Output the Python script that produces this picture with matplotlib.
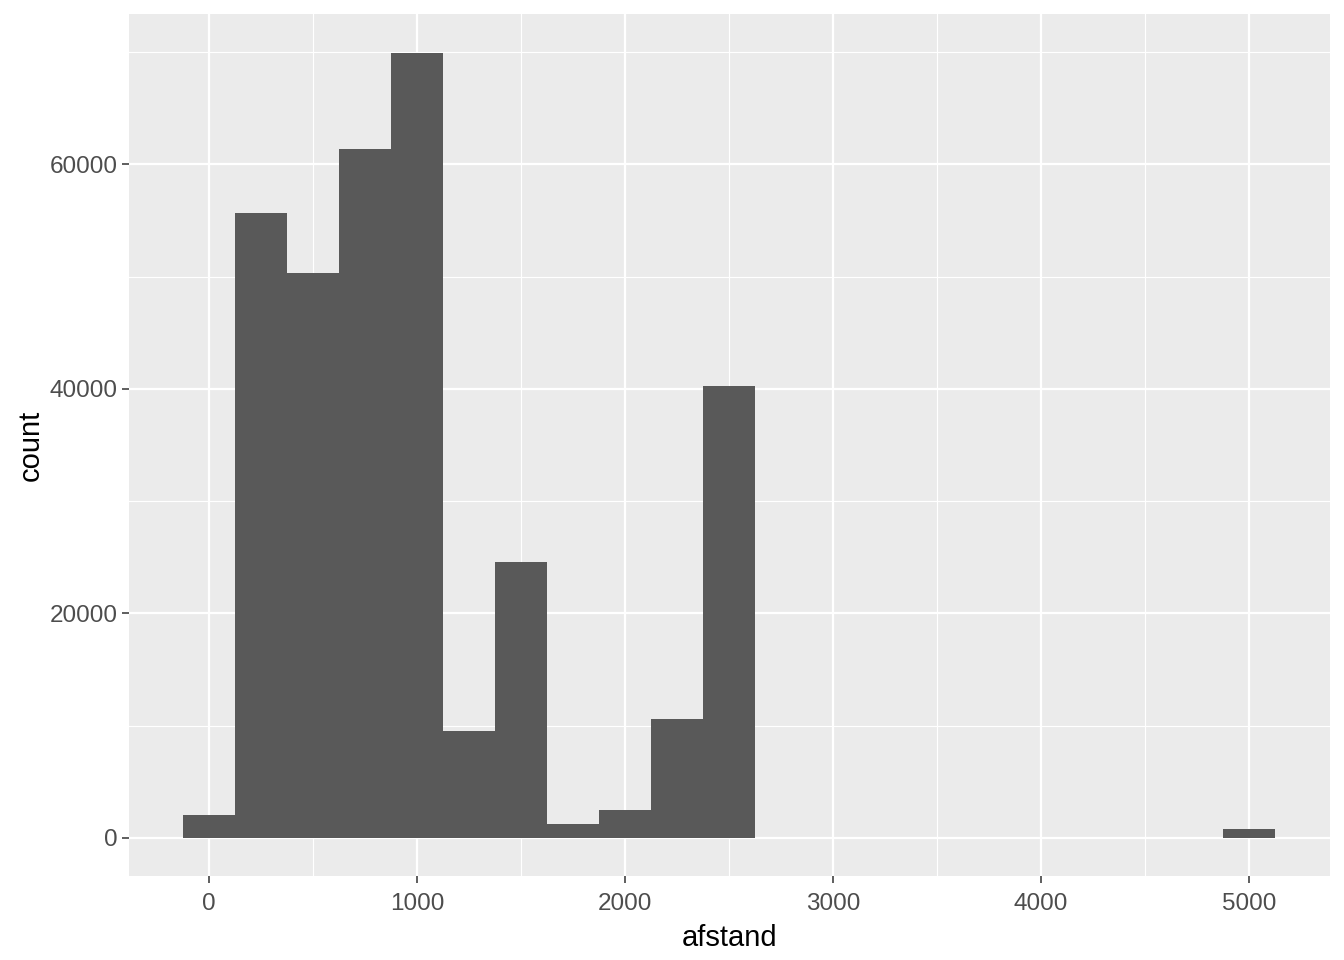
import numpy as np
import matplotlib.pyplot as plt

plt.rcParams['font.family'] = ['Liberation Sans', 'DejaVu Sans']

# histogram bins (width 250, centred on multiples of 250)
bin_centers = [0, 250, 500, 750, 1000, 1250, 1500, 1750, 2000, 2250, 2500,
               2750, 3000, 3250, 3500, 3750, 4000, 4250, 4500, 4750, 5000]
counts = [2050, 55700, 50300, 61400, 69950, 9550, 24600, 1250, 2500, 10600, 40300,
          0, 0, 0, 0, 0, 0, 0, 0, 0, 800]
bin_width = 250

x_ticks = [0, 1000, 2000, 3000, 4000, 5000]
y_ticks = [0, 20000, 40000, 60000]

fig = plt.figure(figsize=(13.44, 9.6), dpi=100)
ax = fig.add_axes([0.096, 0.0875, 0.8936, 0.8979])
ax.set_facecolor('#EBEBEB')

ax.bar(bin_centers, counts, width=bin_width, color='#595959', linewidth=0, zorder=3)

ax.set_xlim(-385, 5389)
ax.set_ylim(-3390, 73400)

ax.set_xticks(x_ticks)
ax.set_yticks(y_ticks)
ax.set_xticks([500, 1500, 2500, 3500, 4500], minor=True)
ax.set_yticks([10000, 30000, 50000, 70000], minor=True)
ax.grid(which='major', color='white', linewidth=1.6, zorder=0)
ax.grid(which='minor', color='white', linewidth=0.8, zorder=0)
ax.set_axisbelow(True)

for s in ax.spines.values():
    s.set_visible(False)

ax.tick_params(which='major', length=5, width=1.1, color='#333333',
               labelsize=17.5, labelcolor='#4D4D4D', pad=3)
ax.tick_params(axis='x', which='major', pad=7)
ax.tick_params(which='minor', length=0)

ax.set_xlabel('afstand', fontsize=21, color='black', labelpad=7)
ax.set_ylabel('count', fontsize=21, color='black', labelpad=4)

fig.savefig('out.png', dpi=100)
